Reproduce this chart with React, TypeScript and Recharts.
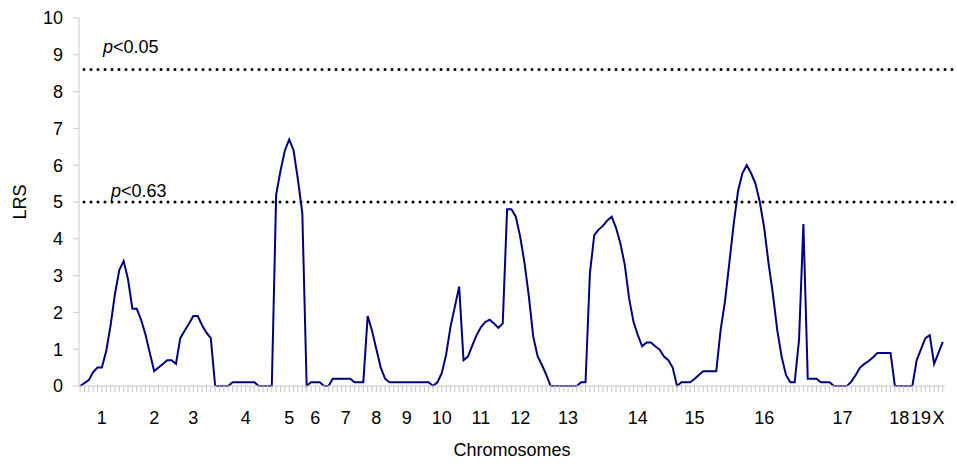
import { LineChart, Line, XAxis, YAxis, ReferenceLine } from 'recharts';

// LRS value per marker, in genome order
const lrs = [
  0, 0.08, 0.16, 0.38, 0.5, 0.5, 0.95, 1.65, 2.5, 3.15,
  3.4, 2.9, 2.1, 2.1, 1.8, 1.4, 0.9, 0.4, 0.5, 0.6,
  0.7, 0.7, 0.6, 1.3, 1.5, 1.7, 1.9, 1.9, 1.65, 1.45,
  1.3, 0, 0, 0, 0, 0.1, 0.1, 0.1, 0.1, 0.1,
  0.1, 0, 0, 0, 0, 5.2, 5.85, 6.4, 6.7, 6.4,
  5.6, 4.7, 0, 0.1, 0.1, 0.1, 0, 0, 0.2, 0.2,
  0.2, 0.2, 0.2, 0.1, 0.1, 0.1, 1.9, 1.5, 1.0, 0.5,
  0.2, 0.1, 0.1, 0.1, 0.1, 0.1, 0.1, 0.1, 0.1, 0.1,
  0.1, 0, 0.1, 0.35, 0.85, 1.6, 2.15, 2.7, 0.7, 0.8,
  1.1, 1.38, 1.6, 1.74, 1.8, 1.7, 1.58, 1.7, 4.8, 4.8,
  4.6, 4.06, 3.34, 2.43, 1.34, 0.81, 0.57, 0.3, 0, 0,
  0, 0, 0, 0, 0, 0.1, 0.1, 3.06, 4.1, 4.25,
  4.35, 4.5, 4.6, 4.3, 3.87, 3.3, 2.38, 1.75, 1.38, 1.08,
  1.18, 1.18, 1.08, 0.99, 0.8, 0.7, 0.5, 0, 0.1, 0.1,
  0.1, 0.19, 0.3, 0.4, 0.4, 0.4, 0.4, 1.52, 2.3, 3.34,
  4.4, 5.3, 5.78, 6.0, 5.78, 5.5, 5.0, 4.3, 3.34, 2.5,
  1.52, 0.8, 0.3, 0.1, 0.1, 1.25, 4.4, 0.2, 0.2, 0.2,
  0.1, 0.1, 0.1, 0, 0, 0, 0, 0.12, 0.3, 0.5,
  0.6, 0.68, 0.78, 0.9, 0.9, 0.9, 0.9, 0, 0, 0,
  0, 0, 0.7, 1.0, 1.3, 1.38, 0.6, 0.9, 1.2,
];

// chromosome names and the marker index each label sits under
const chromosomes = ['1', '2', '3', '4', '5', '6', '7', '8', '9', '10', '11', '12', '13', '14', '15', '16', '17', '18', '19', 'X'];
const chromosomeAt = [5, 17, 26, 38, 48, 54, 61, 68, 75, 83, 92, 101, 112, 128, 141, 157, 175, 188, 193, 197];

const yTicks = [0, 1, 2, 3, 4, 5, 6, 7, 8, 9, 10];

const thresholdValues = [8.6, 5.0];
const thresholdLabels = ['<0.05', '<0.63'];

const data = lrs.map((v, i) => ({ i, lrs: v }));
const xTicks = lrs.map((_, i) => i);
const labelByIndex: Record<number, string> = {};
chromosomeAt.forEach((idx, k) => { labelByIndex[idx] = chromosomes[k]; });

const FONT = '"Liberation Sans", Arial, sans-serif';
const GREY = '#c8c8c8';

function ChromTick(props: any) {
  const { x, y, payload } = props;
  const name = labelByIndex[payload.value];
  if (!name) return <g />;
  return (
    <text x={x} y={y + 30} textAnchor="middle" fontSize={18} fontFamily={FONT} fill="#000">
      {name}
    </text>
  );
}

const labelShift = [
  { dx: 24, dy: -17 },
  { dx: 32, dy: -5 },
];

export default function App() {
  return (
    <div style={{ width: 957, height: 464 }}>
      <style>{`body{margin:0;}`}</style>
      <LineChart
        width={957}
        height={464}
        data={data}
        margin={{ top: 18, right: 12, bottom: 0, left: 0 }}
      >
        <XAxis
          dataKey="i"
          type="number"
          domain={[-0.25, 198.5]}
          ticks={xTicks}
          interval={0}
          height={78}
          tick={<ChromTick />}
          tickSize={6}
          tickMargin={2}
          axisLine={{ stroke: GREY }}
          tickLine={{ stroke: GREY }}
          label={{
            content: (p: any) => (
              <text
                x={p.viewBox.x + p.viewBox.width / 2}
                y={p.viewBox.y + 70}
                textAnchor="middle"
                fontSize={18}
                fontFamily={FONT}
                fill="#000"
              >
                Chromosomes
              </text>
            ),
          }}
        />
        <YAxis
          type="number"
          domain={[0, 10]}
          ticks={yTicks}
          interval={0}
          width={79}
          tickSize={6}
          tickMargin={10}
          axisLine={{ stroke: GREY }}
          tickLine={{ stroke: GREY }}
          tick={{ fontSize: 18, fontFamily: FONT, fill: '#000' }}
          label={{
            content: () => (
              <text
                x={20}
                y={202}
                transform="rotate(-90, 20, 202)"
                textAnchor="middle"
                dominantBaseline="central"
                fontSize={18}
                fontFamily={FONT}
                fill="#000"
              >
                LRS
              </text>
            ),
          }}
        />
        {thresholdValues.map((v, k) => (
          <ReferenceLine
            key={k}
            y={v}
            stroke="#000"
            strokeWidth={3}
            strokeDasharray="0 7"
            strokeLinecap="round"
            shape={(p: any) => (
              <line
                x1={p.x1 + 5}
                y1={p.y1}
                x2={p.x2 + 12}
                y2={p.y2}
                stroke="#000"
                strokeWidth={3}
                strokeDasharray="0 7"
                strokeLinecap="round"
              />
            )}
            label={{
              content: (lp: any) => (
                <text
                  x={lp.viewBox.x + labelShift[k].dx}
                  y={lp.viewBox.y + labelShift[k].dy}
                  fontSize={18}
                  fontFamily={FONT}
                  fill="#000"
                >
                  <tspan fontStyle="italic">p</tspan>
                  {thresholdLabels[k]}
                </text>
              ),
            }}
          />
        ))}
        <Line
          type="linear"
          dataKey="lrs"
          stroke="#000080"
          strokeWidth={2}
          dot={false}
          activeDot={false}
          isAnimationActive={false}
        />
      </LineChart>
    </div>
  );
}
